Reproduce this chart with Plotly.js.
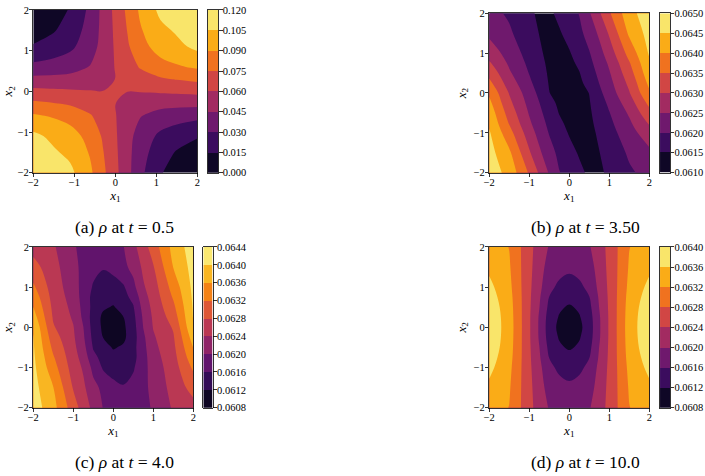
<!DOCTYPE html>
<html><head><meta charset="utf-8">
<script src="https://cdn.plot.ly/plotly-3.0.1.min.js"></script>
<style>html,body{margin:0;padding:0;background:#fff}</style>
</head><body><div id="chart" style="width:705px;height:476px"></div>
<script>
// ---------- data ----------
const gridA = [-2, -1.5, -1.1, -0.6, -0.3, 0, 0.3, 0.6, 1.1, 1.5, 2];
const gridF = [-2, -1.5, -1, -0.75, -0.5, -0.25, 0, 0.25, 0.5, 0.75, 1, 1.5, 2];

// rows: x2 from -2 (bottom) to 2 (top); columns: x1 from -2 to 2
const rhoA = [
  [0.11727, 0.11189, 0.10850, 0.09209, 0.07834, 0.06394, 0.04937, 0.03417, 0.01570, 0.01113, 0.00551],
  [0.11189, 0.10689, 0.10139, 0.08833, 0.07571, 0.06266, 0.04960, 0.03610, 0.02202, 0.01380, 0.01113],
  [0.10850, 0.10139, 0.09632, 0.08444, 0.07318, 0.06169, 0.05035, 0.03880, 0.02696, 0.02202, 0.01570],
  [0.09209, 0.08833, 0.08444, 0.07598, 0.06823, 0.06060, 0.05321, 0.04594, 0.03880, 0.03610, 0.03417],
  [0.07834, 0.07571, 0.07318, 0.06823, 0.06406, 0.06015, 0.05654, 0.05321, 0.05035, 0.04960, 0.04937],
  [0.06394, 0.06266, 0.06169, 0.06060, 0.06015, 0.06005, 0.06015, 0.06060, 0.06169, 0.06266, 0.06394],
  [0.04937, 0.04960, 0.05035, 0.05321, 0.05654, 0.06015, 0.06406, 0.06823, 0.07318, 0.07571, 0.07834],
  [0.03417, 0.03610, 0.03880, 0.04594, 0.05321, 0.06060, 0.06823, 0.07598, 0.08444, 0.08833, 0.09209],
  [0.01570, 0.02202, 0.02696, 0.03880, 0.05035, 0.06169, 0.07318, 0.08444, 0.09632, 0.10139, 0.10850],
  [0.01113, 0.01380, 0.02202, 0.03610, 0.04960, 0.06266, 0.07571, 0.08833, 0.10139, 0.10689, 0.11189],
  [0.00551, 0.01113, 0.01570, 0.03417, 0.04937, 0.06394, 0.07834, 0.09209, 0.10850, 0.11189, 0.11727]
];
const rhoB = [
  [0.06480, 0.06432, 0.06344, 0.06294, 0.06245, 0.06202, 0.06182, 0.06162, 0.06141, 0.06141, 0.06160, 0.06193, 0.06215],
  [0.06468, 0.06409, 0.06306, 0.06259, 0.06219, 0.06188, 0.06166, 0.06145, 0.06128, 0.06149, 0.06169, 0.06207, 0.06239],
  [0.06455, 0.06368, 0.06274, 0.06233, 0.06197, 0.06171, 0.06146, 0.06129, 0.06138, 0.06157, 0.06180, 0.06230, 0.06278],
  [0.06443, 0.06346, 0.06258, 0.06221, 0.06188, 0.06159, 0.06138, 0.06122, 0.06141, 0.06163, 0.06189, 0.06242, 0.06306],
  [0.06430, 0.06329, 0.06246, 0.06211, 0.06178, 0.06148, 0.06130, 0.06127, 0.06144, 0.06169, 0.06198, 0.06257, 0.06335],
  [0.06412, 0.06312, 0.06235, 0.06201, 0.06165, 0.06141, 0.06124, 0.06130, 0.06147, 0.06177, 0.06210, 0.06276, 0.06363],
  [0.06393, 0.06297, 0.06224, 0.06189, 0.06151, 0.06134, 0.06118, 0.06134, 0.06151, 0.06189, 0.06224, 0.06297, 0.06393],
  [0.06363, 0.06276, 0.06210, 0.06177, 0.06147, 0.06130, 0.06124, 0.06141, 0.06165, 0.06201, 0.06235, 0.06312, 0.06412],
  [0.06335, 0.06257, 0.06198, 0.06169, 0.06144, 0.06127, 0.06130, 0.06148, 0.06178, 0.06211, 0.06246, 0.06329, 0.06430],
  [0.06306, 0.06242, 0.06189, 0.06163, 0.06141, 0.06122, 0.06138, 0.06159, 0.06188, 0.06221, 0.06258, 0.06346, 0.06443],
  [0.06278, 0.06230, 0.06180, 0.06157, 0.06138, 0.06129, 0.06146, 0.06171, 0.06197, 0.06233, 0.06274, 0.06368, 0.06455],
  [0.06239, 0.06207, 0.06169, 0.06149, 0.06128, 0.06145, 0.06166, 0.06188, 0.06219, 0.06259, 0.06306, 0.06409, 0.06468],
  [0.06215, 0.06193, 0.06160, 0.06141, 0.06141, 0.06162, 0.06182, 0.06202, 0.06245, 0.06294, 0.06344, 0.06432, 0.06480]
];
const rhoC = [
  [0.06422, 0.06373, 0.06299, 0.06263, 0.06229, 0.06198, 0.06190, 0.06184, 0.06183, 0.06190, 0.06204, 0.06245, 0.06265],
  [0.06415, 0.06361, 0.06277, 0.06248, 0.06212, 0.06190, 0.06172, 0.06163, 0.06172, 0.06190, 0.06211, 0.06254, 0.06295],
  [0.06410, 0.06336, 0.06262, 0.06235, 0.06189, 0.06155, 0.06143, 0.06142, 0.06156, 0.06186, 0.06218, 0.06261, 0.06327],
  [0.06407, 0.06324, 0.06256, 0.06225, 0.06170, 0.06148, 0.06132, 0.06132, 0.06148, 0.06185, 0.06223, 0.06266, 0.06345],
  [0.06404, 0.06311, 0.06251, 0.06214, 0.06157, 0.06134, 0.06117, 0.06125, 0.06148, 0.06188, 0.06229, 0.06271, 0.06361],
  [0.06402, 0.06298, 0.06246, 0.06206, 0.06149, 0.06119, 0.06102, 0.06112, 0.06143, 0.06192, 0.06235, 0.06276, 0.06378],
  [0.06396, 0.06284, 0.06242, 0.06201, 0.06144, 0.06113, 0.06095, 0.06113, 0.06144, 0.06201, 0.06242, 0.06284, 0.06396],
  [0.06378, 0.06276, 0.06235, 0.06192, 0.06143, 0.06112, 0.06102, 0.06119, 0.06149, 0.06206, 0.06246, 0.06298, 0.06402],
  [0.06361, 0.06271, 0.06229, 0.06188, 0.06148, 0.06125, 0.06117, 0.06134, 0.06157, 0.06214, 0.06251, 0.06311, 0.06404],
  [0.06345, 0.06266, 0.06223, 0.06185, 0.06148, 0.06132, 0.06132, 0.06148, 0.06170, 0.06225, 0.06256, 0.06324, 0.06407],
  [0.06327, 0.06261, 0.06218, 0.06186, 0.06156, 0.06142, 0.06143, 0.06155, 0.06189, 0.06235, 0.06262, 0.06336, 0.06410],
  [0.06295, 0.06254, 0.06211, 0.06190, 0.06172, 0.06163, 0.06172, 0.06190, 0.06212, 0.06248, 0.06277, 0.06361, 0.06415],
  [0.06265, 0.06245, 0.06204, 0.06190, 0.06183, 0.06184, 0.06190, 0.06198, 0.06229, 0.06263, 0.06299, 0.06373, 0.06422]
];
const rhoD = [
  [0.06340, 0.06319, 0.06252, 0.06222, 0.06197, 0.06184, 0.06180, 0.06184, 0.06197, 0.06222, 0.06252, 0.06319, 0.06340],
  [0.06352, 0.06324, 0.06250, 0.06218, 0.06183, 0.06172, 0.06166, 0.06172, 0.06183, 0.06218, 0.06250, 0.06324, 0.06352],
  [0.06370, 0.06330, 0.06248, 0.06211, 0.06168, 0.06153, 0.06148, 0.06153, 0.06168, 0.06211, 0.06248, 0.06330, 0.06370],
  [0.06378, 0.06334, 0.06247, 0.06205, 0.06159, 0.06140, 0.06134, 0.06140, 0.06159, 0.06205, 0.06247, 0.06334, 0.06378],
  [0.06385, 0.06337, 0.06246, 0.06201, 0.06150, 0.06126, 0.06115, 0.06126, 0.06150, 0.06201, 0.06246, 0.06337, 0.06385],
  [0.06389, 0.06339, 0.06245, 0.06196, 0.06143, 0.06117, 0.06097, 0.06117, 0.06143, 0.06196, 0.06245, 0.06339, 0.06389],
  [0.06390, 0.06340, 0.06245, 0.06195, 0.06140, 0.06111, 0.06090, 0.06111, 0.06140, 0.06195, 0.06245, 0.06340, 0.06390],
  [0.06389, 0.06339, 0.06245, 0.06196, 0.06143, 0.06117, 0.06097, 0.06117, 0.06143, 0.06196, 0.06245, 0.06339, 0.06389],
  [0.06385, 0.06337, 0.06246, 0.06201, 0.06150, 0.06126, 0.06115, 0.06126, 0.06150, 0.06201, 0.06246, 0.06337, 0.06385],
  [0.06378, 0.06334, 0.06247, 0.06205, 0.06159, 0.06140, 0.06134, 0.06140, 0.06159, 0.06205, 0.06247, 0.06334, 0.06378],
  [0.06370, 0.06330, 0.06248, 0.06211, 0.06168, 0.06153, 0.06148, 0.06153, 0.06168, 0.06211, 0.06248, 0.06330, 0.06370],
  [0.06352, 0.06324, 0.06250, 0.06218, 0.06183, 0.06172, 0.06166, 0.06172, 0.06183, 0.06218, 0.06250, 0.06324, 0.06352],
  [0.06340, 0.06319, 0.06252, 0.06222, 0.06197, 0.06184, 0.06180, 0.06184, 0.06197, 0.06222, 0.06252, 0.06319, 0.06340]
];

const levelsA = [0.000, 0.015, 0.030, 0.045, 0.060, 0.075, 0.090, 0.105, 0.120];
const levelsB = [0.0610, 0.0615, 0.0620, 0.0625, 0.0630, 0.0635, 0.0640, 0.0645, 0.0650];
const levelsC = [0.0608, 0.0612, 0.0616, 0.0620, 0.0624, 0.0628, 0.0632, 0.0636, 0.0640, 0.0644];
const levelsD = [0.0608, 0.0612, 0.0616, 0.0620, 0.0624, 0.0628, 0.0632, 0.0636, 0.0640];

const captions = [
  '(a) <i>ρ</i> at <i>t</i> = 0.5',
  '(b) <i>ρ</i> at <i>t</i> = 3.50',
  '(c) <i>ρ</i> at <i>t</i> = 4.0',
  '(d) <i>ρ</i> at <i>t</i> = 10.0'
];
const axisTicks = [-2, -1, 0, 1, 2];

// ---------- styling helpers ----------
const FONT = '"Liberation Serif", "DejaVu Serif", serif';
const INFERNO = ['#000004','#1b0c41','#4a0c6b','#781c6d','#a52c60','#cf4446','#ed6925','#fb9b06','#f7d13d','#fcffa4'];
function hex(c){return [parseInt(c.slice(1,3),16),parseInt(c.slice(3,5),16),parseInt(c.slice(5,7),16)];}
function inferno(t){
  const p = t*(INFERNO.length-1); const i = Math.min(Math.floor(p), INFERNO.length-2); const f = p-i;
  const a = hex(INFERNO[i]), b = hex(INFERNO[i+1]);
  return 'rgb(' + a.map((v,k)=>Math.round(v+(b[k]-v)*f)).join(',') + ')';
}
function bandScale(n){const s=[];for(let k=0;k<n;k++)s.push([k/(n-1), inferno((k+0.5)/n)]);return s;}

function contourTrace(z, g, levels, xa, ya){
  const n = levels.length-1;
  return {type:'contour', x:g, y:g, z:z, xaxis:xa, yaxis:ya, autocontour:false,
    contours:{start:levels[1], end:levels[n-1], size:levels[1]-levels[0], coloring:'fill', showlines:false},
    line:{width:0, smoothing:1}, colorscale:bandScale(n), showscale:false, hoverinfo:'skip'};
}
function colorbarTrace(levels, xa, ya){
  const n = levels.length-1;
  const centers = levels.slice(0,n).map((v,i)=>(v+levels[i+1])/2);
  return {type:'heatmap', x:[0], y:centers, z:centers.map((_,k)=>[k]), zmin:0, zmax:n-1,
    colorscale:bandScale(n), showscale:false, xaxis:xa, yaxis:ya, hoverinfo:'skip'};
}

const tickFont = {family:FONT, size:10.5, color:'#000'};
const titleFont = {family:FONT, size:13, color:'#000'};
function mainX(dom, anchor){
  return {domain:dom, anchor:anchor, range:[-2,2], tickvals:axisTicks, ticks:'outside', ticklen:3.5, tickwidth:0.8,
    tickcolor:'#000', showline:true, linecolor:'#000', linewidth:0.8, mirror:true, showgrid:false, zeroline:false,
    tickfont:tickFont, ticklabelstandoff:-4, title:{text:'<i>x</i><sub>1</sub>', font:titleFont, standoff:2}};
}
function mainY(dom, anchor){
  return {domain:dom, anchor:anchor, range:[-2,2], tickvals:axisTicks, ticks:'outside', ticklen:3.5, tickwidth:0.8,
    tickcolor:'#000', showline:true, linecolor:'#000', linewidth:0.8, mirror:true, showgrid:false, zeroline:false,
    tickfont:tickFont, ticklabelstandoff:-2, title:{text:'<i>x</i><sub>2</sub>', font:titleFont, standoff:4}};
}
function cbX(dom, anchor){
  return {domain:dom, anchor:anchor, range:[-0.5,0.5], showticklabels:false, ticks:'', showline:true,
    linecolor:'#000', linewidth:0.8, mirror:true, showgrid:false, zeroline:false, fixedrange:true};
}
function cbY(dom, anchor, levels, fmt){
  return {domain:dom, anchor:anchor, side:'right', range:[levels[0], levels[levels.length-1]], tickvals:levels,
    tickformat:fmt, ticks:'outside', ticklen:3.5, tickwidth:0.8, tickcolor:'#000', showline:true, linecolor:'#000',
    linewidth:0.8, mirror:true, showgrid:false, zeroline:false, tickfont:tickFont, ticklabelstandoff:-2};
}

const topY = [0.6372, 0.9790], topYb = [0.6372, 0.9721], botY = [0.1435, 0.4811];

const data = [
  contourTrace(rhoA, gridA, levelsA, 'x', 'y'),
  contourTrace(rhoB, gridF, levelsB, 'x2', 'y2'),
  contourTrace(rhoC, gridF, levelsC, 'x3', 'y3'),
  contourTrace(rhoD, gridF, levelsD, 'x4', 'y4'),
  colorbarTrace(levelsA, 'x5', 'y5'),
  colorbarTrace(levelsB, 'x6', 'y6'),
  colorbarTrace(levelsC, 'x7', 'y7'),
  colorbarTrace(levelsD, 'x8', 'y8')
];

const capY = [0.5231, 0.5231, 0.0294, 0.0294];
const capX = [0.1773, 0.830, 0.1773, 0.830];

const layout = {
  width:705, height:476, margin:{l:0,r:0,t:0,b:0}, paper_bgcolor:'#fff', plot_bgcolor:'#fff',
  showlegend:false, font:{family:FONT, color:'#000'},
  xaxis: mainX([0.0472, 0.2799], 'y'),   yaxis: mainY(topY, 'x'),
  xaxis2: mainX([0.6940, 0.9210], 'y2'), yaxis2: mainY(topYb, 'x2'),
  xaxis3: mainX([0.0472, 0.2742], 'y3'), yaxis3: mainY(botY, 'x3'),
  xaxis4: mainX([0.6940, 0.9210], 'y4'), yaxis4: mainY(botY, 'x4'),
  xaxis5: cbX([0.2946, 0.3096], 'y5'), yaxis5: cbY(topY, 'x5', levelsA, '.3f'),
  xaxis6: cbX([0.9362, 0.9504], 'y6'), yaxis6: cbY(topYb, 'x6', levelsB, '.4f'),
  xaxis7: cbX([0.2884, 0.3017], 'y7'), yaxis7: cbY(botY, 'x7', levelsC, '.4f'),
  xaxis8: cbX([0.9362, 0.9504], 'y8'), yaxis8: cbY(botY, 'x8', levelsD, '.4f'),
  annotations: captions.map((t,i)=>({text:t, xref:'paper', yref:'paper', x:capX[i], y:capY[i],
    xanchor:'center', yanchor:'middle', showarrow:false, font:{family:FONT, size:17.5, color:'#000'}}))
};

Plotly.newPlot('chart', data, layout, {staticPlot:true, displayModeBar:false});
</script>
</body></html>
